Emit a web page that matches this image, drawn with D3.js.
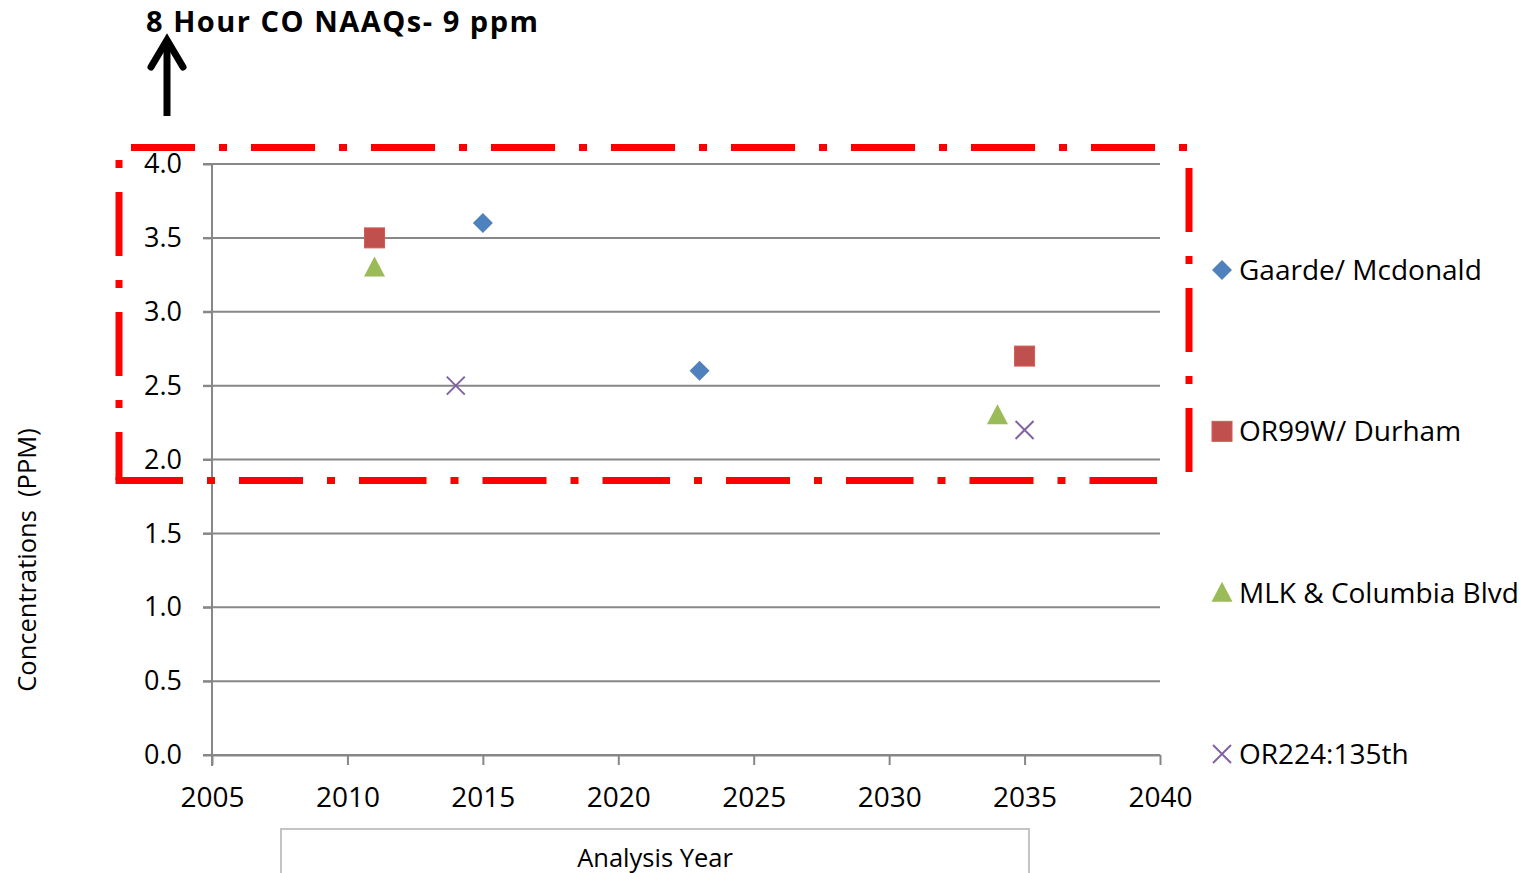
<!DOCTYPE html>
<html>
<head>
<meta charset="utf-8">
<script src="https://d3js.org/d3.v7.min.js"></script>
<style>
  body { margin: 0; background: #fff; }
  svg text { font-family: "Open Sans", sans-serif; fill: #000; }
</style>
</head>
<body>
<div id="chart"></div>
<script>
// data
const seriesNames = ["Gaarde/ Mcdonald", "OR99W/ Durham", "MLK & Columbia Blvd", "OR224:135th"];
const seriesColors = ["#4F81BD", "#C0504D", "#9BBB59", "#8064A2"];
const seriesShapes = ["diamond", "square", "triangle", "cross"];
const gaardeYears = [2015, 2023];
const gaardeValues = [3.6, 2.6];
const durhamYears = [2011, 2035];
const durhamValues = [3.5, 2.7];
const mlkYears = [2011, 2034];
const mlkValues = [3.3, 2.3];
const or224Years = [2014, 2035];
const or224Values = [2.5, 2.2];
const xTicks = [2005, 2010, 2015, 2020, 2025, 2030, 2035, 2040];
const yTicks = [0, 0.5, 1, 1.5, 2, 2.5, 3, 3.5, 4];

const width = 1528, height = 873;
const plotLeft = 212, plotRight = 1160, plotTop = 164, plotBottom = 755;

const svg = d3.select("#chart").append("svg")
    .attr("width", width)
    .attr("height", height);

const x = d3.scaleLinear().domain([2005, 2040]).range([plotLeft, plotRight]);
const y = d3.scaleLinear().domain([0, 4]).range([plotBottom, plotTop]);

const gray = "#878787";

// gridlines
svg.append("g")
  .selectAll("line")
  .data(yTicks)
  .enter()
  .append("line")
    .attr("x1", plotLeft - 9)
    .attr("x2", plotRight)
    .attr("y1", d => y(d))
    .attr("y2", d => y(d))
    .attr("stroke", gray)
    .attr("stroke-width", 2);

// y axis
const yAxis = svg.append("g")
    .attr("transform", `translate(${plotLeft},0)`)
    .call(d3.axisLeft(y).tickValues(yTicks).tickFormat(d3.format(".1f"))
      .tickSize(9).tickSizeOuter(0).tickPadding(21));
yAxis.select(".domain").remove();
yAxis.selectAll("line").attr("stroke", gray).attr("stroke-width", 2);
yAxis.selectAll("text").attr("font-size", 27).attr("font-family", "Open Sans");
svg.append("line")
    .attr("x1", plotLeft).attr("x2", plotLeft)
    .attr("y1", y(4)).attr("y2", y(0) + 11)
    .attr("stroke", gray).attr("stroke-width", 2);

// x axis
const xAxis = svg.append("g")
    .attr("transform", `translate(0,${plotBottom})`)
    .call(d3.axisBottom(x).tickValues(xTicks).tickFormat(d3.format("d"))
      .tickSize(10).tickSizeOuter(0).tickPadding(22));
xAxis.select(".domain").attr("stroke", gray).attr("stroke-width", 2);
xAxis.selectAll("line").attr("stroke", gray).attr("stroke-width", 2);
xAxis.selectAll("text").attr("font-size", 28).attr("font-family", "Open Sans");

// axis titles
svg.append("text")
    .attr("transform", `translate(36,${(428 + 692) / 2}) rotate(-90)`)
    .attr("text-anchor", "middle")
    .attr("font-size", 25.5)
    .style("white-space", "pre")
    .text("Concentrations  (PPM)");

svg.append("rect")
    .attr("x", 281).attr("y", 829)
    .attr("width", 748).attr("height", 80)
    .attr("fill", "none")
    .attr("stroke", "#c4c4c4")
    .attr("stroke-width", 2);
svg.append("text")
    .attr("x", 655).attr("y", 867)
    .attr("text-anchor", "middle")
    .attr("font-size", 25.5)
    .text("Analysis Year");

// title + arrow
svg.append("text")
    .attr("x", 146).attr("y", 32)
    .attr("font-size", 29)
    .attr("font-weight", "bold")
    .attr("textLength", 392)
    .attr("lengthAdjust", "spacing")
    .text("8 Hour CO NAAQs- 9 ppm");
svg.append("line")
    .attr("x1", 167).attr("x2", 167)
    .attr("y1", 116).attr("y2", 42)
    .attr("stroke", "#000").attr("stroke-width", 7);
svg.append("polyline")
    .attr("points", "151,67 167,40 183,67")
    .attr("fill", "none")
    .attr("stroke", "#000").attr("stroke-width", 7)
    .attr("stroke-linecap", "round").attr("stroke-linejoin", "miter");

// red dash-dot box
const box = svg.append("g")
    .attr("stroke", "#FF0000")
    .attr("stroke-width", 7)
    .attr("fill", "none");
box.append("line").attr("x1", 131).attr("x2", 1187).attr("y1", 147.5).attr("y2", 147.5)
    .attr("stroke-dasharray", "64,24,8,24");
box.append("line").attr("x1", 119).attr("x2", 119).attr("y1", 160).attr("y2", 480)
    .attr("stroke-dasharray", "8,24,64,24");
box.append("line").attr("x1", 115.5).attr("x2", 1175).attr("y1", 480.5).attr("y2", 480.5)
    .attr("stroke-dasharray", "67.5,24,8,24,64,24,8,24");
box.append("line").attr("x1", 1189).attr("x2", 1189).attr("y1", 168).attr("y2", 472)
    .attr("stroke-dasharray", "64,24,8,24");

// marker symbols
function drawMarker(g, shape, color) {
  if (shape === "diamond") {
    g.append("path").attr("d", "M0,-10L10,0L0,10L-10,0Z").attr("fill", color);
  } else if (shape === "square") {
    g.append("rect").attr("x", -10).attr("y", -10).attr("width", 20).attr("height", 20)
      .attr("fill", color).attr("stroke", d3.color(color).brighter(0.3)).attr("stroke-width", 1);
  } else if (shape === "triangle") {
    g.append("path").attr("d", "M0,-11L10.5,9L-10.5,9Z").attr("fill", color);
  } else {
    g.append("path").attr("d", "M-9,-9L9,9M-9,9L9,-9").attr("stroke", color)
      .attr("stroke-width", 2).attr("fill", "none");
  }
}

const series = [
  { years: gaardeYears, values: gaardeValues },
  { years: durhamYears, values: durhamValues },
  { years: mlkYears, values: mlkValues },
  { years: or224Years, values: or224Values }
];

series.forEach((s, i) => {
  const pts = s.years.map((yr, j) => ({ yr: yr, v: s.values[j] }));
  svg.append("g")
    .selectAll("g")
    .data(pts)
    .enter()
    .append("g")
      .attr("transform", d => `translate(${x(d.yr)},${y(d.v)})`)
      .each(function() { drawMarker(d3.select(this), seriesShapes[i], seriesColors[i]); });
});

// legend
const legendY = d3.scalePoint().domain(seriesNames).range([270, 754]);
const legend = svg.append("g")
  .selectAll("g")
  .data(seriesNames)
  .enter()
  .append("g")
    .attr("transform", d => `translate(1222,${legendY(d)})`);
legend.each(function(d, i) { drawMarker(d3.select(this), seriesShapes[i], seriesColors[i]); });
legend.append("text")
    .attr("x", 17)
    .attr("y", 10)
    .attr("font-size", 28)
    .text(d => d);
</script>
</body>
</html>
